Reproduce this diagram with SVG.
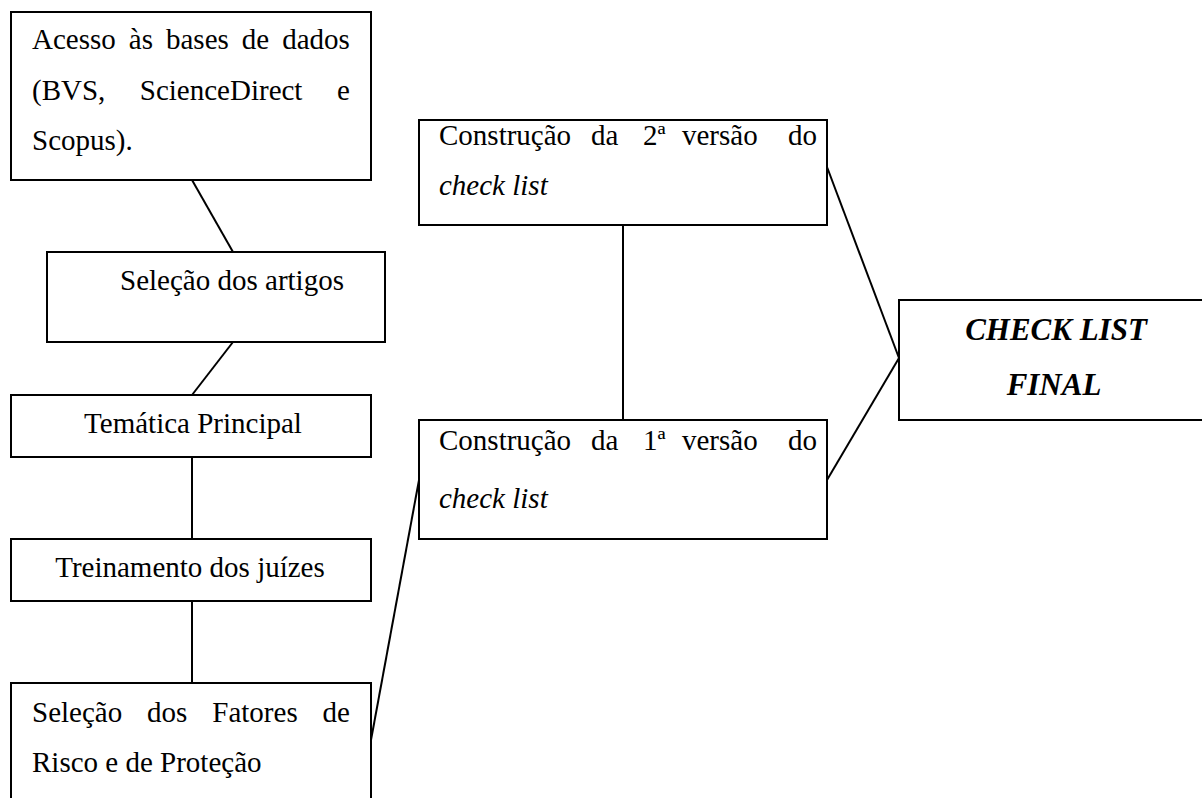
<svg xmlns="http://www.w3.org/2000/svg" width="1202" height="798" viewBox="0 0 1202 798">
<style>
.box{fill:#fff;stroke:#000;stroke-width:2}
.t{font-family:"Liberation Serif","Times New Roman",serif;font-size:29px;fill:#000}
.i{font-style:italic}
.bi{font-family:"Liberation Serif","Times New Roman",serif;font-size:31px;font-style:italic;font-weight:bold;fill:#000}
.c{stroke:#000;stroke-width:2;fill:none}
</style>
<rect width="1202" height="798" fill="#fff"/>
<g id="connectors">
<line class="c" x1="192" y1="180" x2="233" y2="252"/>
<line class="c" x1="233" y1="342" x2="192" y2="395"/>
<line class="c" x1="192" y1="457" x2="192" y2="539"/>
<line class="c" x1="192" y1="601" x2="192" y2="683"/>
<line class="c" x1="371" y1="740" x2="419" y2="480"/>
<line class="c" x1="623" y1="225" x2="623" y2="420"/>
<line class="c" x1="827" y1="167" x2="899" y2="358"/>
<line class="c" x1="827" y1="480" x2="899" y2="358"/>
</g>
<g id="n-acesso">
<rect class="box" x="11" y="12" width="360" height="168"/>
<text class="t"><tspan x="32" y="49">Acesso</tspan><tspan x="128.8" y="49">às</tspan><tspan x="166" y="49">bases</tspan><tspan x="241.8" y="49">de</tspan><tspan x="282.2" y="49">dados</tspan></text>
<text class="t"><tspan x="32" y="100">(BVS,</tspan><tspan x="139.8" y="100">ScienceDirect</tspan><tspan x="337.1" y="100">e</tspan></text>
<text class="t" x="32" y="150">Scopus).</text>
</g>
<g id="n-selecao-artigos">
<rect class="box" x="47" y="252" width="338" height="90"/>
<text class="t" x="232" y="290" text-anchor="middle">Seleção dos artigos</text>
</g>
<g id="n-tematica">
<rect class="box" x="11" y="395" width="360" height="62"/>
<text class="t" x="193" y="433" text-anchor="middle">Temática Principal</text>
</g>
<g id="n-treinamento">
<rect class="box" x="11" y="539" width="360" height="62"/>
<text class="t" x="190" y="577" text-anchor="middle">Treinamento dos juízes</text>
</g>
<g id="n-fatores">
<rect class="box" x="11" y="683" width="360" height="130"/>
<text class="t"><tspan x="32" y="722">Seleção</tspan><tspan x="147.1" y="722">dos</tspan><tspan x="212.3" y="722">Fatores</tspan><tspan x="322.6" y="722">de</tspan></text>
<text class="t" x="32" y="772">Risco e de Proteção</text>
</g>
<g id="n-versao2">
<rect class="box" x="419" y="120" width="408" height="105"/>
<text class="t"><tspan x="439" y="145">Construção</tspan><tspan x="591" y="145">da</tspan><tspan x="643" y="145">2ª</tspan><tspan x="682" y="145">versão</tspan><tspan x="788" y="145">do</tspan></text>
<text class="t i" x="439" y="195">check list</text>
</g>
<g id="n-versao1">
<rect class="box" x="419" y="420" width="408" height="119"/>
<text class="t"><tspan x="439" y="450">Construção</tspan><tspan x="591" y="450">da</tspan><tspan x="643" y="450">1ª</tspan><tspan x="682" y="450">versão</tspan><tspan x="788" y="450">do</tspan></text>
<text class="t i" x="439" y="508">check list</text>
</g>
<g id="n-final">
<rect class="box" x="899" y="300" width="320" height="120"/>
<text class="bi" x="1056" y="340" text-anchor="middle">CHECK LIST</text>
<text class="bi" x="1054" y="395" text-anchor="middle">FINAL</text>
</g>
</svg>
